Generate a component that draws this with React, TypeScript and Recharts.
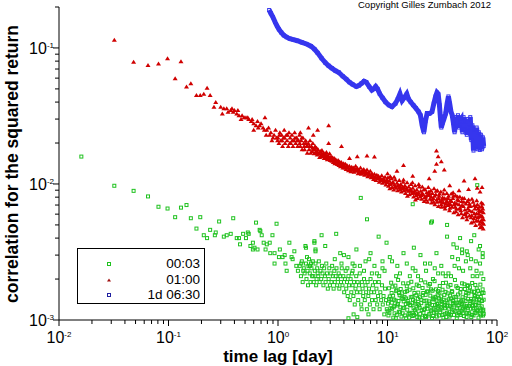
import { ScatterChart, Scatter, XAxis, YAxis } from 'recharts'

// lag [day], correlation
const green0003: [number, number][] = [
  [0.016,0.0159],[0.032,0.0097],[0.048,0.0089],[0.065,0.0081],[0.081,0.0068],[0.098,0.0066],[0.115,0.0057],[0.13,0.0067],
  [0.146,0.007],[0.16,0.0056],[0.18,0.0047],[0.195,0.0057],[0.21,0.0042],[0.225,0.004],[0.24,0.0046],[0.27,0.0044],
  [0.265,0.0042],[0.29,0.0053],[0.32,0.0041],[0.34,0.0042],[0.37,0.0043],[0.39,0.0056],[0.42,0.004],[0.44,0.004],
  [0.45,0.0036],[0.48,0.0043],[0.51,0.004],[0.53,0.0044],[0.54,0.0043],[0.56,0.0035],[0.59,0.0037],[0.63,0.0052],
  [0.61,0.0034],[0.65,0.0033],[0.69,0.0045],[0.71,0.0042],[0.74,0.0037],[0.77,0.0033],[0.79,0.0036],[0.84,0.0037],
  [0.89,0.0042],[0.85,0.0031],[0.93,0.0031],[0.97,0.0051],[0.93,0.0026],[1.04,0.0033],[1.02,0.0029],[1.1,0.0029],
  [1.15,0.003],[1.17,0.0026],[1.2,0.0023],[1.27,0.0037],[1.33,0.0029],[1.36,0.0028],[1.41,0.0032],[1.47,0.0025],
  [1.52,0.0023],[1.58,0.0025],[1.63,0.0026],[1.7,0.0023],[1.78,0.0035],[1.84,0.0029],[1.9,0.0025],[1.96,0.0025],
  [2.0,0.0026],[2.1,0.0021],[2.15,0.0038],[2.2,0.0032],[2.25,0.002],[2.3,0.0022],[0.68,0.0046],[0.59,0.0033],
  [1.62,0.0021],[1.65,0.0027],[1.68,0.0019],[1.72,0.0024],[1.75,0.0022],[1.8,0.0026],[1.82,0.002],[1.86,0.0023],
  [1.88,0.0018],[1.92,0.0028],[1.95,0.0022],[1.98,0.0019],[2.02,0.0024],[2.05,0.0021],[2.08,0.0027],[2.12,0.0019],
  [2.17,0.0023],[2.2,0.0026],[2.23,0.0018],[2.28,0.0024],[2.33,0.0021],[2.36,0.0027],[2.4,0.0019],[2.44,0.0023],
  [2.48,0.002],[2.52,0.0025],[2.55,0.0022],[2.6,0.0018],[2.64,0.0024],[2.68,0.0021],[2.72,0.0019],[2.76,0.0026],
  [2.8,0.0022],[2.85,0.0017],[2.9,0.002],[2.94,0.0024],[2.98,0.0018],[3.03,0.0022],[3.08,0.0019],[3.12,0.0025],
  [3.17,0.0021],[3.22,0.0017],[3.27,0.0023],[3.3,0.0019],[3.36,0.0021],[3.42,0.0024],[3.47,0.0018],[3.52,0.002],
  [3.58,0.0022],[3.63,0.0017],[3.7,0.0021],[3.76,0.0019],[3.82,0.0024],[3.88,0.0018],[3.95,0.0021],
  [4.02,0.0016],[4.08,0.002],[4.15,0.0023],[4.2,0.0017],[4.27,0.0019],[4.33,0.0015],[4.4,0.0021],[4.46,0.0018],
  [4.52,0.0014],[4.6,0.002],[4.67,0.0016],[4.73,0.0022],[4.8,0.0018],[4.88,0.0015],[4.95,0.0019],[5.02,0.0013],
  [5.1,0.0017],[5.18,0.0021],[5.25,0.0016],[5.33,0.0019],[5.4,0.0014],[5.5,0.0018],[5.58,0.0022],[5.65,0.0016],
  [5.75,0.0013],[5.83,0.0019],[5.92,0.0017],[6.0,0.0015],[6.1,0.002],[6.2,0.0014],[6.3,0.0018],[6.38,0.0016],
  [6.48,0.0012],[6.58,0.0019],[6.68,0.0015],[6.78,0.0017],[6.9,0.0013],[7.0,0.002],[7.1,0.0016],[7.22,0.0014],
  [7.35,0.0018],[7.45,0.0012],[7.55,0.0016],[7.68,0.0019],[7.8,0.0014],[7.92,0.0017],[8.05,0.0013],[8.2,0.0015],
  [8.33,0.0019],[8.47,0.0012],[8.6,0.0016],[8.75,0.0014],[8.9,0.0018],[9.05,0.0013],[9.2,0.0015],[9.35,0.0011],
  [9.5,0.0017],[9.7,0.0014],[9.85,0.0012],[4.4,0.00103],[4.9,0.0011],[5.3,0.00105],[5.8,0.0012],[6.7,0.0011],
  [4.3,0.0024],[5.0,0.0025],[6.1,0.0023],[7.2,0.0022],[8.4,0.0021],[9.0,0.0024],
  [10.1,0.00132],[10.3,0.00171],[10.2,0.00108],[10.5,0.00149],[10.8,0.00188],[11.0,0.00121],[10.9,0.00158],[11.3,0.00104],
  [11.5,0.00141],[11.8,0.00179],[11.6,0.00112],[12.0,0.00163],[12.3,0.00128],[12.5,0.00197],[12.7,0.00115],[12.9,0.00152],
  [13.2,0.00169],[13.4,0.00106],[13.7,0.00143],[13.9,0.00186],[14.2,0.00123],[14.5,0.00161],[14.8,0.00103],[15.0,0.00177],
  [15.3,0.00138],[15.6,0.00111],[15.9,0.00167],[16.1,0.00129],[16.5,0.00191],[16.8,0.00148],[17.0,0.00107],[17.3,0.00122],
  [17.6,0.00158],[17.9,0.00137],[18.2,0.00112],[18.5,0.00182],[18.8,0.00131],[19.1,0.00159],[19.5,0.00104],[19.8,0.00147],
  [20.2,0.00196],[20.5,0.00118],[20.9,0.00172],[21.3,0.00113],[21.7,0.00138],[22.1,0.00189],[22.5,0.00105],[22.9,0.00162],
  [23.3,0.00127],[23.7,0.00179],[24.1,0.00111],[24.6,0.00151],[25.0,0.00168],[25.5,0.00103],[25.9,0.00142],[26.4,0.00121],
  [26.9,0.00193],[27.4,0.00148],[27.9,0.00114],[28.4,0.00131],[28.9,0.00163],[29.5,0.00108],[30.0,0.00178],[30.6,0.00139],
  [31.2,0.00122],[31.8,0.00167],[32.4,0.00104],[33.0,0.00153],[33.6,0.00129],[34.2,0.00188],[34.9,0.00113],[35.5,0.00157],
  [36.2,0.00142],[36.9,0.00106],[37.6,0.00181],[38.3,0.00124],[39.0,0.00161],[39.8,0.00133],[40.5,0.00109],[41.3,0.00197],
  [42.1,0.00148],[42.9,0.00103],[43.7,0.00172],[44.5,0.00128],[45.4,0.00114],[46.2,0.00159],[47.1,0.00137],[48.0,0.00186],
  [49.0,0.00121],[49.9,0.00107],[50.9,0.00169],[51.9,0.00152],[52.9,0.00127],[53.9,0.00178],[55.0,0.00112],[56.0,0.00163],
  [57.1,0.00138],[58.2,0.00105],[59.3,0.00187],[60.5,0.00122],[61.6,0.00161],[62.8,0.00129],[64.0,0.00113],[65.3,0.00171],
  [66.5,0.00147],[67.8,0.00104],[69.1,0.00133],[70.5,0.00182],[71.8,0.00118],[73.2,0.00158],[74.6,0.00108],[75.5,0.00141],
  [10.4,0.00113],[10.7,0.00142],[11.1,0.00176],[11.4,0.00124],[11.9,0.00103],[12.1,0.00167],[12.6,0.00138],[13.0,0.00114],
  [13.5,0.00157],[13.8,0.00122],[14.3,0.00148],[14.7,0.00131],[15.1,0.00163],[15.5,0.00186],[16.0,0.00112],[16.3,0.00147],
  [16.9,0.00133],[17.2,0.00171],[17.8,0.00118],[18.3,0.00152],[18.7,0.00105],[19.3,0.00178],[19.7,0.00123],[20.4,0.00141],
  [20.8,0.00104],[21.2,0.00158],[21.9,0.00121],[22.3,0.00153],[22.8,0.00128],[23.5,0.00162],[24.0,0.00137],[24.4,0.00184],
  [25.2,0.00119],[25.7,0.00164],[26.2,0.00146],[26.7,0.00113],[27.2,0.00129],[27.7,0.00168],[28.2,0.00106],[28.7,0.00152],
  [29.2,0.00127],[29.8,0.00159],[30.3,0.00114],[30.9,0.00149],[31.5,0.00136],[32.1,0.00187],[32.7,0.00126],[33.3,0.00111],
  [33.9,0.00161],[34.6,0.00139],[35.2,0.00128],[35.9,0.00176],[36.6,0.00121],[37.3,0.00151],[37.9,0.00109],[38.7,0.00163],
  [39.4,0.00138],[40.1,0.00118],[40.9,0.00148],[41.7,0.00132],[42.5,0.00177],[43.3,0.00122],[44.1,0.00154],[44.9,0.00112],
  [45.8,0.00134],[46.7,0.00169],[47.5,0.00117],[48.5,0.00147],[49.4,0.00141],[50.4,0.00183],[51.4,0.00124],[52.4,0.00158],
  [53.4,0.00113],[54.5,0.00143],[55.5,0.00127],[56.6,0.00174],[57.7,0.00121],[58.8,0.00162],[59.9,0.00136],[61.0,0.00108],
  [62.2,0.00153],[63.4,0.00181],[64.6,0.00129],[65.9,0.00117],[67.1,0.00164],[68.4,0.00142],[69.8,0.00111],[71.1,0.00148],
  [72.5,0.00126],[73.9,0.00168],[75.0,0.00119],
  [10.05,0.00116],[10.35,0.00143],[10.65,0.00122],[10.95,0.00134],[11.25,0.00151],[11.55,0.00127],[11.85,0.00139],[12.15,0.00109],
  [12.45,0.00131],[12.75,0.00158],[13.1,0.00124],[13.45,0.00146],[13.75,0.00112],[14.05,0.00137],[14.4,0.00108],[14.75,0.00144],
  [15.15,0.00119],[15.45,0.00133],[15.8,0.00104],[16.2,0.00128],[16.6,0.00113],[17.1,0.00141],[17.5,0.00109],[17.95,0.00132],
  [18.4,0.00121],[18.9,0.00143],[19.4,0.00128],[19.9,0.00111],[20.35,0.00133],[20.95,0.00152],[21.5,0.00119],[22.0,0.00107],
  [22.65,0.00139],[23.1,0.00121],[23.8,0.00108],[24.3,0.00132],[24.9,0.00116],[25.6,0.00129],[26.1,0.00107],[26.8,0.00142],
  [27.5,0.00118],[28.0,0.00139],[28.8,0.00123],[29.6,0.00144],[30.4,0.00119],[31.1,0.00131],[31.9,0.00109],[32.6,0.00141],
  [33.5,0.00122],[34.4,0.00105],[35.3,0.00133],[36.4,0.00111],[37.2,0.00127],[38.0,0.00144],[38.9,0.00115],[39.9,0.00139],
  [40.7,0.00128],[41.6,0.00116],[42.7,0.00134],[43.6,0.00108],[44.7,0.00141],[45.6,0.00123],[46.5,0.00109],[47.8,0.00131],
  [48.8,0.00112],[49.7,0.00128],[50.6,0.00119],[51.7,0.00138],[52.7,0.00105],[53.8,0.00123],[54.8,0.00157],[55.8,0.00112],
  [56.9,0.00132],[58.0,0.00143],[59.1,0.00109],[60.3,0.00127],[61.4,0.00139],[62.6,0.00113],[63.8,0.00121],[65.1,0.00142],
  [66.3,0.00118],[67.6,0.00133],[68.9,0.00156],[70.2,0.00122],[71.5,0.00108],[72.9,0.00138],[74.2,0.00117],[75.3,0.00158],
  [75.6,0.00111],
  [11,0.0027],[12.3,0.0025],[15,0.0026],[22,0.0026],[24.5,0.0026],[39,0.0029],[48,0.0031],[54,0.003],
  [58,0.0028],[41,0.0025],[49,0.0023],[65,0.0023],[66,0.0021],[54,0.0018],[63,0.0015],[36,0.0022],
  [29,0.0022],[32,0.0022],[22.5,0.0023],[9.4,0.0023],[8,0.0022],[4.8,0.0023],[5.6,0.0025],[13,0.0022],
  [17,0.0024],[19,0.0021],[27,0.0024],[34,0.0021],[45,0.0024],[60,0.0021],[70,0.0026],[72,0.0022],
  [74,0.0029],[68,0.0033],[52,0.0027],[44,0.0028],[26,0.002],[16,0.0021],[12,0.0021],[18,0.0023],
  [31,0.0025],[38,0.0021],[57,0.0024],[64,0.0027],[75,0.002],
  [6.5,0.0055],[3.4,0.0043],[2.5,0.0042],[8.3,0.0041],[9.8,0.0037],[17.4,0.0034],[25,0.0052],[25.5,0.0053],
  [35,0.005],[35,0.0041],[1.8,0.0034],[2.15,0.0037],[2.2,0.0033],[2.7,0.0035],[3.7,0.0031],[4.0,0.003],
  [4.4,0.0029],[3.3,0.0028],[3.8,0.0026],[4.8,0.0026],[6.3,0.0027],[5.7,0.0079],[17,0.0071],[66,0.0098],
  [40,0.0036],[48,0.0033],[53,0.0032],[58,0.0038],[62,0.0042],[70,0.0035],[74,0.0031],[46,0.004],
  [43,0.0034],[28,0.0031],[20,0.003],[14,0.0031],[10.5,0.0029],[7,0.0031],[5.2,0.0033],[6.8,0.0028],
  [7.6,0.0025],[9,0.0027],
]

const red0100: [number, number][] = [
  [0.032,0.115],[0.048,0.079],[0.065,0.075],[0.081,0.077],[0.098,0.084],[0.13,0.08],[0.115,0.06],[0.146,0.052],
  [0.16,0.055],[0.18,0.045],[0.195,0.045],[0.21,0.046],[0.225,0.051],[0.24,0.045],[0.26,0.037],[0.27,0.04],
  [0.3,0.037],[0.31,0.033],[0.32,0.036],[0.34,0.036],[0.37,0.035],[0.38,0.036],[0.4,0.035],[0.42,0.033],
  [0.44,0.032],[0.46,0.03],[0.49,0.031],[0.51,0.031],[0.54,0.03],[0.57,0.029],[0.6,0.028],[0.63,0.027],
  [0.68,0.027],[0.73,0.026],[0.76,0.031],[0.79,0.025],[0.84,0.023],[0.9,0.022],[0.97,0.022],[0.6,0.025],
  [0.66,0.026],[0.86,0.024],[0.92,0.023],[0.95,0.025],[0.99,0.021],[0.88,0.021],[0.7,0.028],[0.75,0.025],
  [0.65,0.029],[0.58,0.03],[0.53,0.031],[0.47,0.032],[0.43,0.035],[0.39,0.034],[0.35,0.034],[0.82,0.026],
  [0.78,0.023],
  [1.0,0.022],[1.02,0.02],[1.04,0.024],[1.06,0.021],[1.08,0.023],[1.1,0.019],[1.12,0.022],[1.14,0.025],
  [1.16,0.02],[1.19,0.023],[1.21,0.021],[1.24,0.019],[1.26,0.024],[1.29,0.022],[1.31,0.02],[1.34,0.023],
  [1.37,0.019],[1.4,0.021],[1.42,0.024],[1.45,0.02],[1.48,0.022],[1.51,0.019],[1.54,0.021],[1.57,0.023],
  [1.6,0.019],[1.63,0.021],[1.66,0.018],[1.69,0.022],[1.72,0.02],[1.75,0.018],[1.79,0.021],[1.82,0.019],
  [1.85,0.017],[1.89,0.02],[1.92,0.018],[1.96,0.021],[1.99,0.017],
  [2.02,0.019],[2.05,0.0175],[2.08,0.02],[2.11,0.018],[2.14,0.0168],[2.18,0.019],[2.21,0.0172],[2.25,0.0185],
  [2.28,0.0165],[2.32,0.018],[2.36,0.017],[2.4,0.0158],[2.44,0.0175],[2.48,0.0163],[2.52,0.0178],[2.56,0.016],
  [2.6,0.017],[2.64,0.0155],[2.68,0.0168],[2.73,0.0158],[2.77,0.0172],[2.82,0.0152],[2.86,0.0163],[2.91,0.0155],
  [2.96,0.0168],[3.0,0.015],[3.05,0.016],[3.1,0.0148],[3.15,0.0157],[3.2,0.0145],[3.26,0.0155],[3.31,0.0142],
  [3.37,0.0152],[3.42,0.0147],[3.48,0.014],[3.54,0.015],[3.6,0.0138],[3.66,0.0146],[3.72,0.0135],[3.79,0.0145],
  [3.85,0.0139],[3.92,0.0132],[3.98,0.0142],
  [4.05,0.0135],[4.12,0.0141],[4.19,0.0129],[4.26,0.0138],[4.33,0.0132],[4.4,0.0126],[4.48,0.0136],[4.55,0.013],
  [4.63,0.0124],[4.71,0.0134],[4.79,0.0127],[4.87,0.0132],[4.95,0.0123],[5.04,0.013],[5.12,0.0136],[5.21,0.0125],
  [5.3,0.0131],[5.39,0.012],[5.48,0.0128],[5.58,0.0122],[5.67,0.0132],[5.77,0.0119],[5.87,0.0126],[5.97,0.0121],
  [6.07,0.0129],[6.18,0.0117],[6.28,0.0124],[6.39,0.0119],[6.5,0.0128],[6.61,0.0114],[6.73,0.0122],[6.85,0.0117],
  [6.96,0.0125],[7.08,0.0112],[7.21,0.012],[7.33,0.0115],[7.46,0.0109],[7.59,0.0119],[7.72,0.0113],[7.85,0.0107],
  [7.99,0.0117],[8.13,0.011],[8.27,0.0115],[8.41,0.0104],[8.56,0.0112],[8.71,0.0107],[8.86,0.0116],[9.01,0.0102],
  [9.17,0.011],[9.33,0.0105],[9.49,0.0113],[9.66,0.0099],[9.82,0.0108],[9.99,0.0103],
  [1.03,0.023],[1.09,0.021],[1.15,0.022],[1.22,0.023],[1.28,0.02],[1.35,0.021],[1.43,0.022],[1.5,0.021],
  [1.58,0.02],[1.65,0.022],[1.73,0.019],[1.8,0.02],[1.87,0.019],[1.94,0.019],[2.06,0.0185],[2.16,0.018],
  [2.26,0.0175],[2.38,0.0168],[2.5,0.0168],[2.62,0.0163],[2.75,0.0162],[2.88,0.0158],[3.02,0.0155],[3.18,0.015],
  [3.34,0.0148],[3.51,0.0143],[3.69,0.0141],[3.88,0.0136],[4.08,0.0132],[4.3,0.0135],[4.52,0.0128],[4.76,0.013],
  [5.0,0.0127],[5.25,0.0128],[5.52,0.0125],[5.8,0.0123],[6.1,0.0122],[6.42,0.0123],[6.75,0.0119],[7.1,0.0117],
  [7.45,0.0114],[7.82,0.0112],[8.2,0.0113],[8.62,0.0109],[9.05,0.0108],[9.5,0.0104],[10.0,0.0106],[10.5,0.01],
  [11.1,0.0102],[11.7,0.0096],[12.3,0.0097],[13.0,0.0097],[13.6,0.0093],[14.3,0.0094],[15.0,0.0091],[15.8,0.009],
  [16.6,0.0089],[17.4,0.0087],[18.3,0.0086],[19.2,0.0084],
  [10.1,0.0112],[10.2,0.0097],[10.4,0.0106],[10.5,0.0093],[10.7,0.0101],[10.9,0.011],[11.0,0.0095],[11.2,0.0104],
  [11.4,0.0091],[11.6,0.0099],[11.8,0.0108],[12.0,0.0094],[12.2,0.0102],[12.4,0.009],[12.6,0.0098],[12.8,0.0107],
  [13.0,0.0092],[13.2,0.01],[13.4,0.0088],[13.7,0.0096],[13.9,0.0104],[14.1,0.009],[14.4,0.0098],[14.6,0.0086],
  [14.9,0.0094],[15.1,0.0103],[15.4,0.0089],[15.6,0.0096],[15.9,0.0084],[16.2,0.0092],[16.4,0.01],[16.7,0.0086],
  [17.0,0.0094],[17.3,0.0081],[17.6,0.0089],[17.9,0.0098],[18.2,0.0083],[18.5,0.0091],[18.8,0.0079],[19.1,0.0087],
  [19.5,0.0096],[19.8,0.0081],[10.6,0.0114],[11.5,0.0113],[12.9,0.0095],[14.0,0.0108],[15.2,0.0082],[16.9,0.0103],
  [18.0,0.0077],[19.3,0.01],
  [20.1,0.0089],[20.5,0.0078],[20.8,0.0096],[21.2,0.0084],[21.6,0.0075],[22.0,0.0092],[22.4,0.0081],[22.8,0.0087],
  [23.2,0.0074],[23.6,0.0095],[24.0,0.0083],[24.4,0.0078],[24.9,0.009],[25.3,0.0073],[25.7,0.0086],[26.2,0.0079],
  [26.6,0.0093],[27.1,0.0071],[27.6,0.0084],[28.1,0.0077],[28.6,0.009],[29.1,0.0069],[29.6,0.0082],[30.1,0.0075],
  [30.7,0.0088],[31.2,0.0068],[31.8,0.008],[32.4,0.0073],[33.0,0.0091],[33.6,0.0066],[34.2,0.0078],[34.8,0.0086],
  [35.5,0.007],[36.1,0.0082],[36.8,0.0064],[37.5,0.0076],[38.2,0.0085],[38.9,0.0068],[39.6,0.0079],[40.3,0.0062],
  [41.1,0.0073],[41.8,0.0083],[42.6,0.0066],[43.4,0.0077],[44.2,0.006],[45.0,0.0071],[45.8,0.0081],[46.7,0.0064],
  [47.6,0.0075],[48.4,0.0057],[49.3,0.0069],[50.2,0.0079],[51.2,0.0061],[52.1,0.0072],[53.1,0.0055],[54.1,0.0066],
  [55.1,0.0077],[56.1,0.0059],[57.2,0.0069],[58.2,0.0052],[59.3,0.0063],[60.4,0.0074],[61.5,0.0056],[62.7,0.0066],
  [63.8,0.005],[65.0,0.0061],[66.2,0.0071],[67.4,0.0054],[68.7,0.0064],[70.0,0.0048],[71.3,0.0059],[72.6,0.0069],
  [73.9,0.0052],[75.0,0.0062],
  [20.3,0.0083],[21.4,0.0091],[22.6,0.0077],[23.9,0.0088],[25.1,0.0081],[26.4,0.0074],[27.8,0.0089],[29.3,0.0079],
  [30.9,0.0071],[32.5,0.0085],[34.0,0.0072],[35.8,0.0079],[37.7,0.0071],[39.7,0.0087],[41.5,0.0068],[43.7,0.0081],
  [46.0,0.0067],[48.3,0.0079],[50.8,0.0065],[53.5,0.0075],[56.3,0.0064],[59.1,0.0078],[62.1,0.0061],[65.3,0.0076],
  [68.5,0.0058],[71.9,0.0073],[74.8,0.0047],[73.0,0.0055],[69.3,0.0051],[66.8,0.0057],[64.2,0.0069],[61.0,0.0053],
  [57.9,0.0057],[55.6,0.0069],[52.7,0.0058],[49.8,0.0074],[47.2,0.0061],[44.6,0.0076],[42.2,0.0063],[40.0,0.0082],
  [37.1,0.0067],[35.1,0.0074],[33.3,0.0069],[31.5,0.0077],[75.3,0.0055],[74.2,0.0066],[72.2,0.0049],[70.8,0.0063],
  [67.0,0.0066],[63.5,0.0058],
  [20.7,0.0086],[21.8,0.008],[23.0,0.0083],[24.2,0.0085],[25.5,0.0077],[26.9,0.0082],[28.3,0.0074],[29.8,0.0085],
  [31.3,0.0074],[33.0,0.0079],[34.6,0.0075],[36.4,0.0072],[38.4,0.0075],[40.5,0.0071],[42.9,0.0072],[45.3,0.0066],
  [47.9,0.007],[50.5,0.006],[53.2,0.0062],[56.0,0.0072],[58.7,0.0059],[61.8,0.007],[64.8,0.0054],[67.9,0.0061],
  [71.0,0.0053],[73.5,0.0058],[75.4,0.0051],[74.0,0.0072],[72.0,0.0064],[69.0,0.0068],
  [2.3,0.025],[2.9,0.027],[2.9,0.02],[3.8,0.019],[6.5,0.0162],[7.6,0.0159],[14,0.0138],[28,0.0176],
  [28,0.0141],[31,0.0147],[33,0.0128],[50,0.0106],[63,0.011],[66,0.0094],[1.6,0.024],[1.9,0.026],
  [2.1,0.023],[4.5,0.0155],[5.3,0.016],[10,0.012],[12.2,0.0125],[17,0.0115],[24,0.011],[27,0.0125],
  [29,0.016],[37,0.0098],[45,0.009],[55,0.0092],[70,0.0088],[73,0.0095],
]

const blue1d0630: [number, number][] = [
  [0.83,0.19],[0.86,0.18],[0.9,0.168],[0.94,0.155],[0.98,0.145],[1.02,0.137],[1.07,0.13],[1.13,0.124],
  [1.2,0.12],[1.28,0.117],[1.38,0.115],[1.5,0.113],[1.65,0.11],[1.82,0.107],[2.0,0.103],[2.15,0.098],
  [2.3,0.092],[2.5,0.084],[2.7,0.078],[2.9,0.074],[3.1,0.071],[3.35,0.068],[3.6,0.066],[3.9,0.062],
  [4.2,0.059],[4.5,0.056],[4.8,0.054],[5.2,0.052],[5.5,0.053],[5.8,0.055],[6.1,0.057],[6.4,0.056],
  [6.8,0.052],[7.2,0.049],[7.5,0.05],[7.8,0.052],[8.1,0.05],[8.5,0.046],[9.0,0.043],[9.6,0.04],
  [10.3,0.038],[11.0,0.037],[11.8,0.039],[12.4,0.042],[13.0,0.046],[13.6,0.041],[14.2,0.043],[15.0,0.046],
  [15.6,0.042],[16.3,0.04],[17.2,0.038],[18.2,0.036],[19.2,0.034],[20.0,0.032],[20.7,0.027],[21.5,0.024],
  [22.2,0.029],[23.0,0.033],[24.2,0.033],[25.5,0.034],[26.5,0.039],[27.5,0.044],[28.3,0.047],[29.0,0.046],
  [29.8,0.038],[30.5,0.03],[31.0,0.026],[31.8,0.028],[32.8,0.03],[34.0,0.033],[35.0,0.039],[36.0,0.044],
  [37.0,0.039],[38.0,0.034],[39.0,0.032],[40.0,0.028],[41.0,0.024],[42.0,0.031],[43.0,0.027],[44.0,0.032],
  [45.0,0.026],[46.0,0.029],[47.2,0.03],[48.3,0.024],[49.5,0.031],[50.6,0.025],[51.8,0.029],[53.0,0.023],
  [54.2,0.03],[55.5,0.026],[57.0,0.031],[58.3,0.021],[59.6,0.027],[61.0,0.0176],[62.4,0.025],[63.8,0.019],
  [65.2,0.026],[66.7,0.018],[68.2,0.024],[69.7,0.0178],[71.2,0.023],[72.8,0.018],[74.3,0.022],[75.5,0.019],
]

const xTicks = [0.01,0.02,0.03,0.04,0.05,0.06,0.07,0.08,0.09,0.1,0.2,0.3,0.4,0.5,0.6,0.7,0.8,0.9,
  1,2,3,4,5,6,7,8,9,10,20,30,40,50,60,70,80,90,100]
const yTicks = [0.001,0.002,0.003,0.004,0.005,0.006,0.007,0.008,0.009,0.01,0.02,0.03,0.04,0.05,0.06,0.07,0.08,0.09,0.1,0.2]

const seriesNames = ['00:03', '01:00', '1d 06:30']

const GREEN = '#1fc21f'
const RED = '#d00000'
const BLUE = '#3636ee'
const FONT = '"Liberation Sans", Arial, Helvetica, sans-serif'

const toPoints = (arr: [number, number][]) => arr.map(([x, y]) => ({ x, y }))

function decade(v: number) {
  const l = Math.log10(v)
  const e = Math.round(l)
  return Math.abs(l - e) < 1e-9 ? e : null
}

function XTick({ x, y, payload }: any) {
  const e = decade(payload.value)
  return (
    <g>
      <line x1={x} x2={x} y1={y} y2={y + (e !== null ? 6 : 4)} stroke="#000" />
      {e !== null && (
        <text x={x} y={y + 23} textAnchor="middle" fontSize={16} fontFamily={FONT} fill="#000">
          10<tspan dy={-6} fontSize={8}>{e}</tspan>
        </text>
      )}
    </g>
  )
}

function YTick({ x, y, payload }: any) {
  const e = decade(payload.value)
  return (
    <g>
      <line x1={x - (e !== null ? 6 : 4)} x2={x} y1={y} y2={y} stroke="#000" />
      {e !== null && (
        <text x={x - 5} y={y + 6} textAnchor="end" fontSize={16} fontFamily={FONT} fill="#000">
          10<tspan dy={-6} fontSize={8}>{e}</tspan>
        </text>
      )}
    </g>
  )
}

const XTitle = () => (
  <text x={278} y={362} textAnchor="middle" fontSize={17} fontWeight="bold" fontFamily={FONT} fill="#000">
    time lag  [day]
  </text>
)

const YTitle = () => (
  <text x={18} y={164} transform="rotate(-90 18 164)" textAnchor="middle" fontSize={17.5} fontWeight="bold" fontFamily={FONT} fill="#000">
    correlation for the squared return
  </text>
)

const GreenMark = ({ cx, cy }: any) => (
  <rect x={cx - 1.5} y={cy - 1.5} width={3} height={3} fill="none" stroke={GREEN} strokeWidth={1} />
)
const RedMark = ({ cx, cy }: any) => (
  <path d={`M${cx - 2.5},${cy + 2}L${cx},${cy - 2}L${cx + 2.5},${cy + 2}Z`} fill={RED} />
)
const BlueMark = ({ cx, cy }: any) => (
  <rect x={cx - 1.5} y={cy - 1.5} width={3} height={3} fill="none" stroke={BLUE} strokeWidth={1} />
)

export default function App() {
  return (
    <div style={{ position: 'absolute', left: 0, top: 0, width: 512, height: 366, background: '#fff', fontFamily: FONT }}>
      <ScatterChart width={512} height={366} margin={{ top: 7, right: 15, bottom: 0, left: 0 }}>
        <XAxis
          type="number"
          dataKey="x"
          scale="log"
          domain={[0.01, 100]}
          ticks={xTicks}
          interval={0}
          allowDataOverflow
          height={46}
          tickLine={false}
          tickSize={0}
          tickMargin={0}
          axisLine={{ stroke: '#000' }}
          tick={(p: any) => <XTick {...p} />}
          label={<XTitle />}
        />
        <YAxis
          type="number"
          dataKey="y"
          scale="log"
          domain={[0.001, 0.2]}
          ticks={yTicks}
          interval={0}
          allowDataOverflow
          width={59}
          tickLine={false}
          tickSize={0}
          tickMargin={0}
          axisLine={{ stroke: '#000' }}
          tick={(p: any) => <YTick {...p} />}
          label={<YTitle />}
        />
        <Scatter name={seriesNames[0]} data={toPoints(green0003)} shape={(p: any) => <GreenMark {...p} />} isAnimationActive={false} />
        <Scatter name={seriesNames[1]} data={toPoints(red0100)} shape={(p: any) => <RedMark {...p} />} isAnimationActive={false} />
        <Scatter
          name={seriesNames[2]}
          data={toPoints(blue1d0630)}
          line={{ stroke: BLUE, strokeWidth: 5 }}
          lineType="joint"
          shape={(p: any) => <BlueMark {...p} />}
          isAnimationActive={false}
        />
      </ScatterChart>

      <div style={{ position: 'absolute', left: 358, top: -1, fontSize: 9.5, color: '#000', whiteSpace: 'nowrap' }}>
        Copyright Gilles Zumbach 2012
      </div>

      <div style={{ position: 'absolute', left: 77, top: 248, width: 126, height: 54, border: '1px solid #000', background: '#fff' }}>
        {seriesNames.map((name, i) => (
          <div key={name} style={{ position: 'absolute', left: 0, top: 7 + i * 15.5, width: 126, height: 15 }}>
            <svg width={10} height={10} style={{ position: 'absolute', left: 26, top: 3 }}>
              {i === 0 && <rect x={3.5} y={3.5} width={3} height={3} fill="none" stroke={GREEN} />}
              {i === 1 && <path d="M3,6.5L5,3.5L7,6.5Z" fill="#a01010" />}
              {i === 2 && <rect x={3.5} y={3.5} width={3} height={3} fill="none" stroke="#2020a0" />}
            </svg>
            <span style={{ position: 'absolute', right: 4, top: 0, fontSize: 13.5, lineHeight: '15px' }}>{name}</span>
          </div>
        ))}
      </div>
    </div>
  )
}
